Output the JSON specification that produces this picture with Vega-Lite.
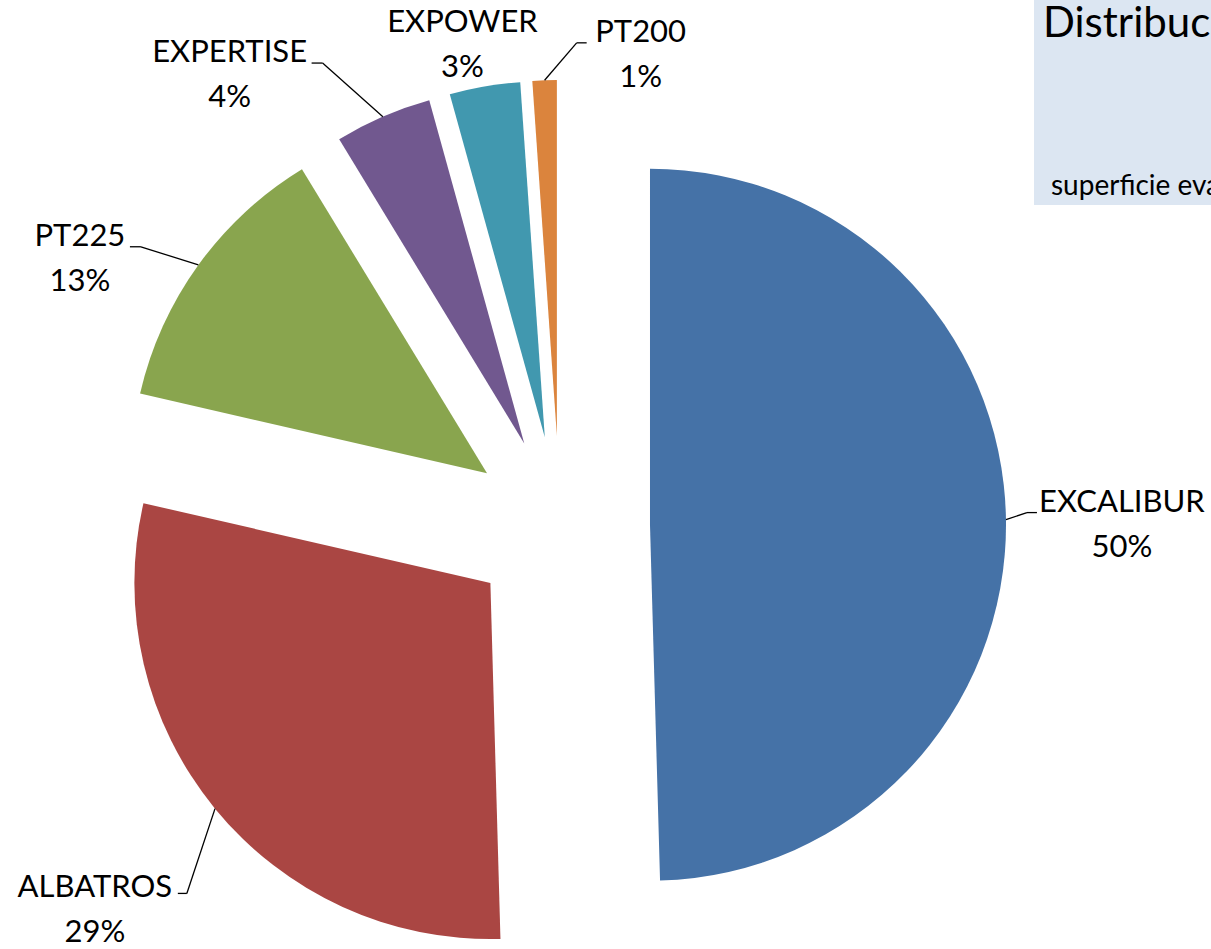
{
  "$schema": "https://vega.github.io/schema/vega-lite/v6.json",
  "width": 1120,
  "height": 846,
  "padding": {"left": 0, "top": 103, "right": 91, "bottom": 0},
  "autosize": {"type": "none"},
  "background": "white",
  "config": {"view": {"stroke": null}, "font": "Lato"},
  "data": {"values": [
    {"name": "EXCALIBUR", "share": 0.4955},
    {"name": "ALBATROS", "share": 0.2905},
    {"name": "PT225", "share": 0.127},
    {"name": "EXPERTISE", "share": 0.044},
    {"name": "EXPOWER", "share": 0.032},
    {"name": "PT200", "share": 0.011}
  ]},
  "layer": [
    {
      "data": {"values": [{"title": "Distribución", "subtitle": "superficie evaluada"}]},
      "mark": {"type": "rect", "color": "#DCE6F2"},
      "encoding": {"x": {"value": 1034}, "x2": {"value": 1230}, "y": {"value": -120}, "y2": {"value": 102}}
    },
    {
      "data": {"values": [{"title": "Distribución", "subtitle": "superficie evaluada"}]},
      "mark": {"type": "text", "align": "left", "baseline": "alphabetic", "fontSize": 42, "font": "Lato", "color": "#000000"},
      "encoding": {"x": {"value": 1043}, "y": {"value": -66}, "text": {"field": "title"}}
    },
    {
      "data": {"values": [{"title": "Distribución", "subtitle": "superficie evaluada"}]},
      "mark": {"type": "text", "align": "left", "baseline": "alphabetic", "fontSize": 28, "font": "Lato", "color": "#000000"},
      "encoding": {"x": {"value": 1051}, "y": {"value": 92}, "text": {"field": "subtitle"}}
    },
    {
      "mark": {
        "type": "arc",
        "radius": 356,
        "xOffset": {"expr": "90*sin(PI*(datum.share_start+datum.share_end))"},
        "yOffset": {"expr": "-90*cos(PI*(datum.share_start+datum.share_end))"}
      },
      "encoding": {
        "theta": {"field": "share", "type": "quantitative", "stack": true},
        "order": {"field": "share", "type": "quantitative", "sort": "descending"},
        "color": {
          "field": "name", "type": "nominal", "legend": null,
          "scale": {
            "domain": ["EXCALIBUR", "ALBATROS", "PT225", "EXPERTISE", "EXPOWER", "PT200"],
            "range": ["#4572A7", "#AA4643", "#89A54E", "#71588F", "#4198AF", "#DB843D"]
          }
        }
      }
    },
    {
      "mark": {
        "type": "text", "radius": 560, "fontSize": 31, "font": "Lato", "color": "#000000",
        "align": "center", "baseline": "middle",
        "dx": {"expr": "datum.name==='EXCALIBUR'?2:datum.name==='ALBATROS'?-32:datum.name==='PT225'?-26:datum.name==='EXPERTISE'?-108:datum.name==='EXPOWER'?-3:100"},
        "dy": {"expr": "(datum.name==='EXCALIBUR'?7:datum.name==='ALBATROS'?30:datum.name==='PT225'?61:datum.name==='EXPERTISE'?63:datum.name==='EXPOWER'?71:89)-22.5"}
      },
      "encoding": {
        "theta": {"field": "share", "type": "quantitative", "stack": true},
        "order": {"field": "share", "type": "quantitative", "sort": "descending"},
        "text": {"field": "name", "type": "nominal"}
      }
    },
    {
      "mark": {
        "type": "text", "radius": 560, "fontSize": 31, "font": "Lato", "color": "#000000",
        "align": "center", "baseline": "middle",
        "dx": {"expr": "datum.name==='EXCALIBUR'?2:datum.name==='ALBATROS'?-32:datum.name==='PT225'?-26:datum.name==='EXPERTISE'?-108:datum.name==='EXPOWER'?-3:100"},
        "dy": {"expr": "(datum.name==='EXCALIBUR'?7:datum.name==='ALBATROS'?30:datum.name==='PT225'?61:datum.name==='EXPERTISE'?63:datum.name==='EXPOWER'?71:89)+22.5"}
      },
      "encoding": {
        "theta": {"field": "share", "type": "quantitative", "stack": true},
        "order": {"field": "share", "type": "quantitative", "sort": "descending"},
        "text": {"field": "share", "type": "quantitative", "format": ".0%"}
      }
    },
    {
      "transform": [
        {"stack": "share", "groupby": [], "sort": [{"field": "share", "order": "descending"}], "as": ["s0", "s1"]},
        {"filter": "datum.name !== 'EXPOWER'"}
      ],
      "mark": {"type": "rule", "color": "#000000", "strokeWidth": 1.3},
      "encoding": {
        "x": {"value": {"expr": "width/2+446*sin(PI*(datum.s0+datum.s1))"}},
        "y": {"value": {"expr": "height/2-446*cos(PI*(datum.s0+datum.s1))"}},
        "x2": {"value": {"expr": "width/2+560*sin(PI*(datum.s0+datum.s1))+(datum.name==='EXCALIBUR'?-93:datum.name==='ALBATROS'?60:datum.name==='PT225'?35:datum.name==='EXPERTISE'?-15:36)"}},
        "y2": {"value": {"expr": "height/2-560*cos(PI*(datum.s0+datum.s1))+(datum.name==='EXCALIBUR'?-5.5:datum.name==='ALBATROS'?12.5:datum.name==='PT225'?48.5:datum.name==='EXPERTISE'?51:76.5)"}}
      }
    },
    {
      "transform": [
        {"stack": "share", "groupby": [], "sort": [{"field": "share", "order": "descending"}], "as": ["s0", "s1"]},
        {"filter": "datum.name !== 'EXPOWER'"}
      ],
      "mark": {"type": "rule", "color": "#000000", "strokeWidth": 1.3},
      "encoding": {
        "x": {"value": {"expr": "width/2+560*sin(PI*(datum.s0+datum.s1))+(datum.name==='EXCALIBUR'?-93:datum.name==='ALBATROS'?60:datum.name==='PT225'?35:datum.name==='EXPERTISE'?-15:36)"}},
        "y": {"value": {"expr": "height/2-560*cos(PI*(datum.s0+datum.s1))+(datum.name==='EXCALIBUR'?-5.5:datum.name==='ALBATROS'?12.5:datum.name==='PT225'?48.5:datum.name==='EXPERTISE'?51:76.5)"}},
        "x2": {"value": {"expr": "width/2+560*sin(PI*(datum.s0+datum.s1))+(datum.name==='EXCALIBUR'?-83:datum.name==='ALBATROS'?51:datum.name==='PT225'?24:datum.name==='EXPERTISE'?-26:46)"}},
        "y2": {"value": {"expr": "height/2-560*cos(PI*(datum.s0+datum.s1))+(datum.name==='EXCALIBUR'?-5.5:datum.name==='ALBATROS'?12.5:datum.name==='PT225'?48.5:datum.name==='EXPERTISE'?51:76.5)"}}
      }
    }
  ]
}
